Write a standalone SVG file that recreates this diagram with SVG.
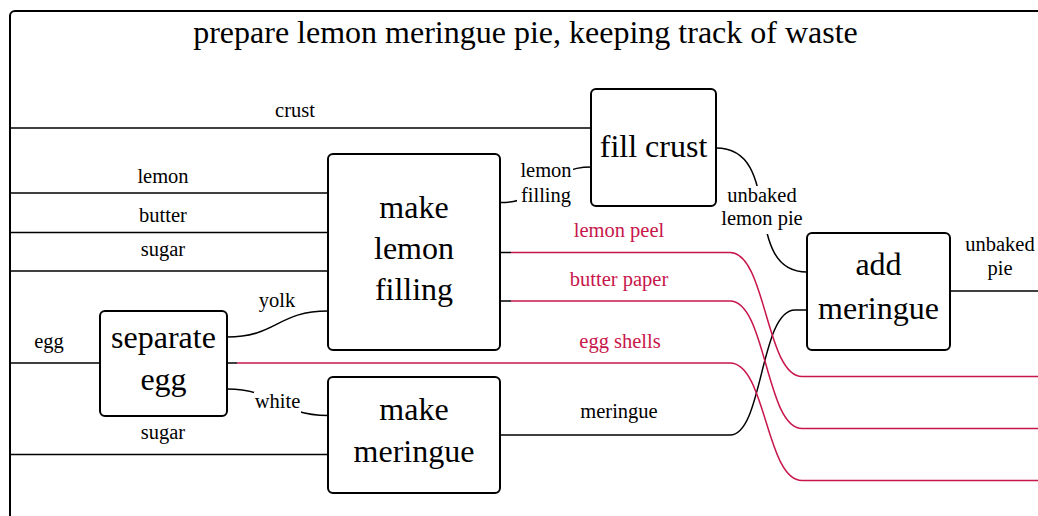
<svg xmlns="http://www.w3.org/2000/svg" width="1038" height="516" viewBox="0 0 1038 516" font-family="'Liberation Serif', 'DejaVu Serif', serif">
<style>
.frame{fill:none;stroke:#000;stroke-width:2}
.box{fill:#fff;stroke:#000;stroke-width:2}
.c{fill:none;stroke:#000;stroke-width:1.5}
.w{fill:none;stroke:#c8164b;stroke-width:1.5}
text{text-anchor:middle;fill:#000}
.n{font-size:32px}
.l{font-size:20.5px}
.t{font-size:32px}
.r{fill:#c8164b}
.bg{fill:#fff}
</style>
<rect id="frame" class="frame" x="10" y="11" width="1100" height="600" rx="5"/>
<text class="t" x="525.5" y="43">prepare lemon meringue pie, keeping track of waste</text>
<g id="connectors">
  <path class="c" d="M10 128 H591"/>
  <path class="c" d="M10 193 H328"/>
  <path class="c" d="M10 232.5 H328"/>
  <path class="c" d="M10 271 H328"/>
  <path class="c" d="M10 363 H100"/>
  <path class="c" d="M10 454.5 H328"/>
  <path class="c" d="M227 337 C277 337 277 311 328 311"/>
  <path class="c" d="M227 389 C277 389 277 415.5 328 415.5"/>
  <path class="c" d="M501 202.5 C546 202.5 546 167 591 167"/>
  <path class="c" d="M716 148 C785 148 740 272 807 272"/>
  <path class="c" d="M501 435 H730 C763 435 760 310 795 310 H807"/>
  <path class="c" d="M950 291 H1038"/>
  <path class="c" d="M501 252.5 H511"/>
  <path class="w" d="M511 252.5 H730 C766 252.5 766 376.5 802 376.5 H1038"/>
  <path class="c" d="M501 301 H511"/>
  <path class="w" d="M511 301 H730 C766 301 766 428.5 802 428.5 H1038"/>
  <path class="c" d="M227 363 H237"/>
  <path class="w" d="M237 363 H730 C766 363 766 480.5 802 480.5 H1038"/>
  <rect class="bg" x="517" y="153" width="56" height="56"/>
  <rect class="bg" x="722" y="186" width="80" height="48"/>
  <rect class="bg" x="254" y="392" width="47" height="21"/>
  <text class="l" x="295" y="117">crust</text>
  <text class="l" x="163" y="183">lemon</text>
  <text class="l" x="163" y="222">butter</text>
  <text class="l" x="163" y="256">sugar</text>
  <text class="l" x="49" y="348">egg</text>
  <text class="l" x="163" y="439">sugar</text>
  <text class="l" x="277" y="307">yolk</text>
  <text class="l" x="277.5" y="408">white</text>
  <text class="l" x="546" y="177">lemon</text>
  <text class="l" x="546" y="202">filling</text>
  <text class="l" x="762" y="202">unbaked</text>
  <text class="l" x="762" y="225">lemon pie</text>
  <text class="l" x="1000" y="251">unbaked</text>
  <text class="l" x="1000" y="275">pie</text>
  <text class="l r" x="619" y="237">lemon peel</text>
  <text class="l r" x="619" y="286">butter paper</text>
  <text class="l r" x="620" y="348">egg shells</text>
  <text class="l" x="619" y="418">meringue</text>
</g>
<g id="fill-crust">
  <rect class="box" x="591" y="89" width="125" height="117" rx="5"/>
  <text class="n" x="653.5" y="157">fill crust</text>
</g>
<g id="make-lemon-filling">
  <rect class="box" x="328" y="154" width="172" height="196" rx="5"/>
  <text class="n" x="414" y="218">make</text>
  <text class="n" x="414" y="259">lemon</text>
  <text class="n" x="414" y="300">filling</text>
</g>
<g id="separate-egg">
  <rect class="box" x="100" y="311" width="127" height="105" rx="5"/>
  <text class="n" x="163.5" y="348">separate</text>
  <text class="n" x="163.5" y="390">egg</text>
</g>
<g id="make-meringue">
  <rect class="box" x="328" y="377" width="172" height="116" rx="5"/>
  <text class="n" x="414" y="420">make</text>
  <text class="n" x="414" y="462">meringue</text>
</g>
<g id="add-meringue">
  <rect class="box" x="807" y="233" width="143" height="117" rx="5"/>
  <text class="n" x="878.5" y="275">add</text>
  <text class="n" x="878.5" y="319">meringue</text>
</g>
</svg>
